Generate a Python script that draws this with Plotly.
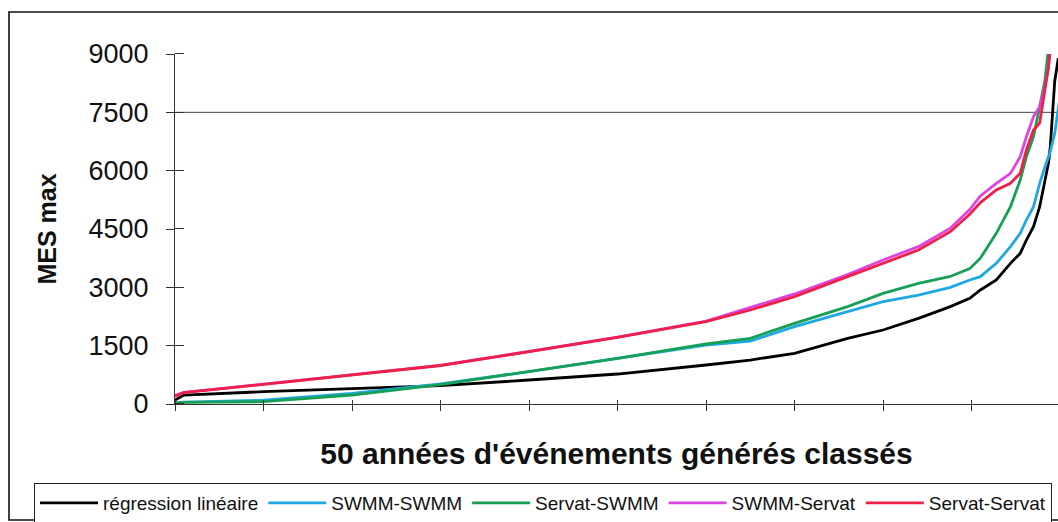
import plotly.graph_objects as go

# Rang classé des événements (% des 50 années d'événements générés)
rang = [0, 1, 10, 20, 30, 40, 50, 60, 65, 70, 76, 80, 84, 87.6, 89.8, 91, 92.8,
        94.4, 95.5, 96.2, 97, 97.7, 98.3, 98.7, 98.9, 99.4, 99.8, 100]

regression_lineaire = [100, 230, 317, 403, 470, 617, 771, 1003, 1131, 1303, 1688, 1903, 2203, 2503,
                       2717, 2931, 3188, 3617, 3874, 4217, 4560, 5074, 5760, 6200, 6617, 8300, 8889, None]
swmm_swmm = [30, 50, 100, 275, 520, 831, 1174, 1517, 1620, 1988, 2374, 2631, 2800, 3000,
             3188, 3274, 3617, 4046, 4389, 4731, 5074, 5674, 6103, 6360, 6490, 6960, 7560, 7900]
servat_swmm = [20, 40, 60, 231, 500, 831, 1174, 1543, 1690, 2074, 2503, 2846, 3103, 3280,
               3480, 3750, 4389, 5074, 5760, 6360, 6874, 7645, 8331, 9150, None, None, None, None]
swmm_servat = [220, 300, 510, 750, 995, 1350, 1720, 2130, 2480, 2830, 3330, 3703, 4046, 4520,
               5000, 5350, 5674, 5931, 6360, 6874, 7388, 7645, 8160, 8674, 9150, None, None, None]
servat_servat = [200, 290, 505, 745, 990, 1345, 1714, 2117, 2417, 2760, 3274, 3617, 3960, 4430,
                 4880, 5180, 5503, 5674, 5931, 6531, 7045, 7225, 8160, 8674, 9150, None, None, None]

series = [
    ("régression linéaire", regression_lineaire, "#000000"),
    ("SWMM-SWMM", swmm_swmm, "#1FA8E2"),
    ("Servat-SWMM", servat_swmm, "#17A055"),
    ("SWMM-Servat", swmm_servat, "#DD44E0"),
    ("Servat-Servat", servat_servat, "#EE2048"),
]

y_ticks = [0, 1500, 3000, 4500, 6000, 7500, 9000]

FONT = "Liberation Sans, Arial, sans-serif"

fig = go.Figure()
for name, vals, col in series:
    fig.add_trace(go.Scatter(x=rang, y=vals, name=name, mode="lines",
                             line=dict(color=col, width=2.8), connectgaps=False))

W, H = 1058, 522
L, R, T, B = 175, 0, 54, 522 - 404
pw, ph = W - L - R, H - T - B

def sx(px):  # pixel x -> paper x
    return (px - L) / pw

def sy(py):  # pixel y -> paper y
    return (H - B - py) / ph

fig.update_layout(
    width=W, height=H,
    margin=dict(l=L, r=R, t=T, b=B, pad=0, autoexpand=False),
    paper_bgcolor="white", plot_bgcolor="white",
    font=dict(family=FONT, color="#111111"),
    showlegend=True,
    legend=dict(orientation="h", x=sx(34), y=sy(483),
                xanchor="left", yanchor="top",
                bordercolor="#222222", borderwidth=1, bgcolor="white",
                font=dict(size=19, family=FONT, color="#111111"),
                itemwidth=58, tracegroupgap=0),
    xaxis=dict(range=[0, 99.77], showgrid=False, zeroline=False, automargin=False,
               showline=True, linecolor="#333333", linewidth=1,
               tickmode="linear", tick0=0, dtick=10, ticks="outside", ticklen=6,
               tickcolor="#333333", showticklabels=False,
               minor=dict(tickmode="linear", tick0=0.001, dtick=10, ticks="inside",
                          ticklen=4, tickcolor="#333333"),
               title=dict(text="50 années d'événements générés classés",
                          font=dict(size=30, family=FONT, color="#111111", weight="bold"),
                          standoff=32)),
    yaxis=dict(range=[0, 9000], showgrid=False, zeroline=False, automargin=False,
               showline=True, linecolor="#333333", linewidth=1,
               tickmode="array", tickvals=y_ticks, ticks="outside", ticklen=8,
               tickcolor="#333333", ticklabelstandoff=12,
               tickfont=dict(size=27, family=FONT, color="#111111"),
               minor=dict(tickmode="array", tickvals=[v + 0.5 for v in y_ticks],
                          ticks="inside", ticklen=9, tickcolor="#333333"),
               title=dict(text="MES max",
                          font=dict(size=25, family=FONT, color="#111111", weight="bold"),
                          standoff=24)),
    shapes=[
        dict(type="line", xref="paper", yref="y", x0=0, x1=1, y0=7500, y1=7500,
             line=dict(color="#444444", width=1), layer="below"),
        dict(type="rect", xref="paper", yref="paper",
             x0=sx(9), x1=sx(1075),
             y0=sy(520), y1=sy(12),
             line=dict(color="#111111", width=1.6), fillcolor="rgba(0,0,0,0)"),
    ],
)

fig.write_html(
    "out.html",
    config={"displayModeBar": False},
    post_script="document.body.style.margin='0';document.body.style.overflow='hidden';",
)
